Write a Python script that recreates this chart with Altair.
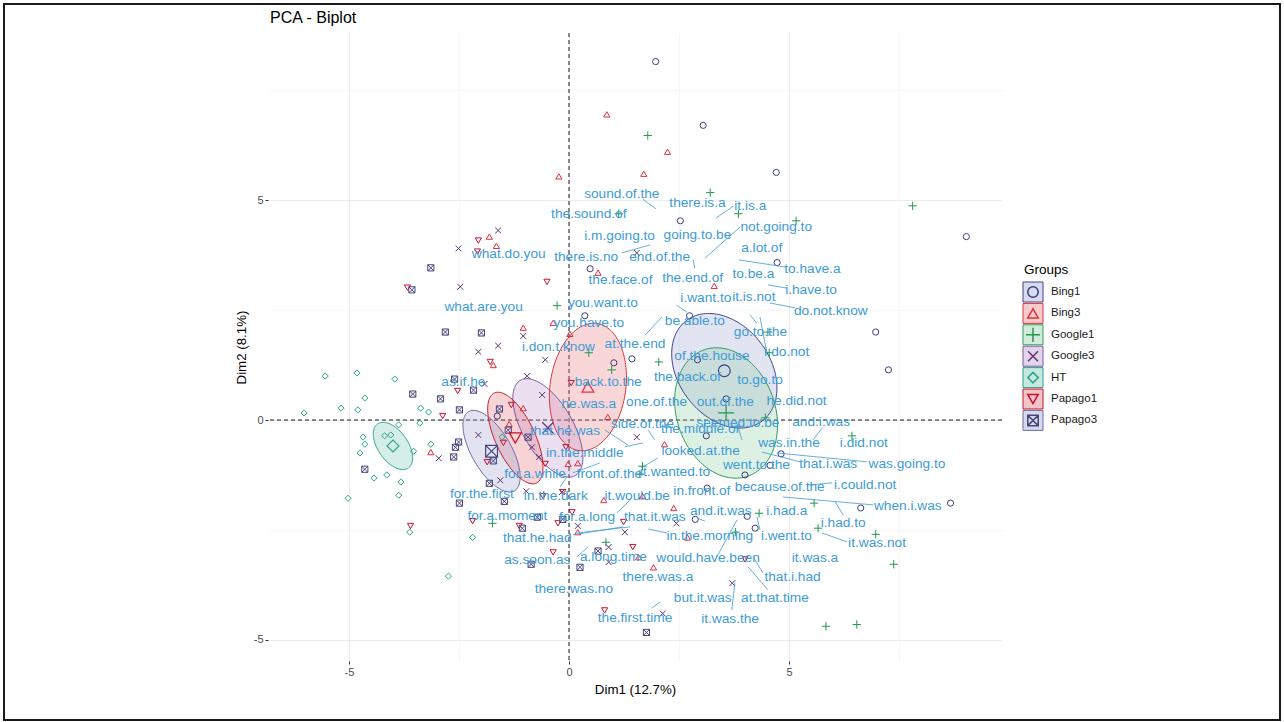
import numpy as np
import pandas as pd
import altair as alt

# ---------------------------------------------------------------- groups
GROUPS = ["Bing1", "Bing3", "Google1", "Google3", "HT", "Papago1", "Papago3"]
GROUP_COLORS = ["#3B3F85", "#E0303F", "#249650", "#5E3473", "#2AA58F", "#C8102E", "#45457F"]
ELLIPSE_LINE = ["#3E4391", "#D9363E", "#2E9B5A", "#7E57A0", "#2E9E88", "#C4162A", "#6A6AA8"]
ELLIPSE_FILL = ["#9EA5D4", "#EB7A7D", "#8ECDA5", "#BC94CD", "#73C6B2", "#E46C76", "#9E9ECD"]
GROUP_SHAPES = [
    "circle",
    "triangle-up",
    "M-1.35,0L1.35,0M0,-1.35L0,1.35",
    "M-0.95,-0.95L0.95,0.95M-0.95,0.95L0.95,-0.95",
    "diamond",
    "triangle-down",
    "M-1,-1L1,-1L1,1L-1,1ZM-1,-1L1,1M-1,1L1,-1",
]

# ---------------------------------------------------------------- individuals (Dim1, Dim2)
BING1_X = [1.97, 3.05, 4.71, 2.53, 9.03, 0.48, 4.73, 0.36, 2.74, 6.97, 7.26, 1.02, 1.43,
           2.92, 3.57, 3.12, 4.82, 4.57, 4.00, 3.14, 2.87, 4.05, 4.23, 6.63, 8.67, -1.63]
BING1_Y = [8.15, 6.70, 5.63, 4.53, 4.17, 3.44, 3.58, 2.37, 2.37, 2.00, 1.14, 1.30, 1.39,
           1.37, 0.48, -0.36, -0.77, -1.03, -1.25, -1.55, -2.26, -2.19, -2.46, -2.00, -1.89, 0.09]

BING3_X = [0.86, 2.24, 1.70, -0.23, -1.81, -1.65, 0.66, 3.30, -0.36, -1.04, 0.02, -1.72, -1.04,
           -1.36, 0.88, 2.17, -0.02, 0.20, -3.14, 0.79, 1.67, 2.38, 0.20, 2.69, 1.58, 1.92]
BING3_Y = [6.95, 6.10, 5.60, 5.54, 4.17, 3.96, 3.35, 3.05, 2.21, 2.10, 1.96, 1.25, 0.27,
           -0.09, 0.07, -0.55, -1.00, -0.98, -0.73, -1.82, -1.73, -2.00, -2.55, -2.67, -3.12, -3.35]

GOOGLE1_X = [1.79, 3.21, 3.85, 1.13, 5.16, 7.81, -0.27, 4.52, 4.55, 0.45, 0.97, 2.04, 4.46,
             1.67, 1.61, 6.43, 5.57, 4.32, 3.78, 5.66, 6.97, 7.38, 5.84, 6.54, 0.84, -1.74]
GOOGLE1_Y = [6.47, 5.17, 4.69, 4.69, 4.53, 4.87, 2.60, 2.00, 1.53, 1.53, 1.14, 1.32, 0.05,
             -1.05, -1.23, -0.36, -1.89, -2.12, -2.55, -2.46, -2.60, -3.28, -4.69, -4.65, -2.78, -2.35]

GOOGLE3_X = [-1.61, -2.51, -2.47, 1.54, -1.04, -1.61, -2.06, -0.54, -0.95, -1.92, -0.61, -2.06, -2.96,
             -0.84, -0.68, -1.56, -0.97, -0.16, 0.20, 0.90, 0.90, 1.27, 1.54, 2.44, 3.71, 2.13]
GOOGLE3_Y = [4.31, 3.90, 3.03, 3.80, 1.91, 1.69, 1.55, 1.37, 1.00, 0.82, 0.57, -0.34, -0.87,
             -0.62, -0.84, -1.37, -1.62, -1.64, -2.41, -2.89, -3.23, -2.55, -0.39, -2.35, -3.71, -4.40]

HT_X = [-5.54, -4.82, -3.96, -4.64, -5.18, -4.80, -6.02, -3.37, -3.19, -3.87, -3.39, -4.68, -4.64, -4.75,
        -4.19, -4.05, -3.53, -3.14, -4.43, -4.14, -3.82, -3.87, -5.02, -3.62, -2.19, -2.74, -1.52]
HT_Y = [1.00, 1.07, 0.93, 0.50, 0.27, 0.23, 0.16, 0.27, 0.18, -0.11, -0.07, -0.39, -0.55, -0.75,
        -0.36, -0.34, -0.71, -0.55, -1.32, -1.25, -1.41, -1.71, -1.78, -2.55, -2.67, -3.55, -0.39]

PAPAGO1_X = [-2.06, -2.08, -0.50, -3.67, -2.53, -2.87, -1.79, -1.31, -1.49, -1.86, 0.05, -0.07, -0.54,
             -0.59, -0.14, 0.07, -0.25, -1.13, -2.19, -3.60, 1.24, 1.45, 0.81, 4.00, -0.36]
PAPAGO1_Y = [4.08, 3.83, 3.14, 3.01, 0.66, 0.09, 1.32, 0.34, -0.52, -0.96, 0.84, -0.62, -1.00,
             -1.73, -1.64, -2.10, -2.35, -2.41, -2.30, -2.41, -2.32, -2.89, -4.33, -3.17, -3.01]

PAPAGO3_X = [-3.14, -3.57, -2.81, -1.99, -3.55, -2.92, -2.17, -2.60, -2.49, -2.51, -2.58, -2.62, -4.64, -1.58,
             -1.38, -0.93, -1.72, -1.81, -1.47, -2.49, -0.72, -0.14, -1.06, -0.86, 0.25, 0.66, 1.76]
PAPAGO3_Y = [3.46, 2.96, 2.00, 1.98, 0.59, 0.48, 0.68, 0.93, 0.23, -0.50, -0.62, -0.84, -1.12, 0.25,
             -0.23, -0.39, -0.93, -1.44, -1.85, -1.89, -2.21, -2.26, -2.46, -3.28, -3.35, -2.98, -4.83]

# group means and their concentration ellipses (semi-axes in Dim units, angle in degrees)
MEAN_X = [3.53, 0.43, 3.57, -0.48, -4.00, -1.22, -1.76]
MEAN_Y = [1.12, 0.75, 0.16, -0.18, -0.59, -0.41, -0.71]
ELL_A = [1.43, 1.46, 1.52, 1.25, 0.61, 1.13, 1.04]
ELL_B = [1.04, 0.86, 1.12, 0.57, 0.34, 0.45, 0.45]
ELL_ANGLE = [-53, 82, -71, -60, -55, -65, -60]

# ---------------------------------------------------------------- variables (n-gram labels)
LABEL_TEXT = [
    "sound.of.the", "there.is.a", "it.is.a", "the.sound.of", "i.m.going.to", "going.to.be",
    "not.going.to", "what.do.you", "there.is.no", "end.of.the", "a.lot.of", "to.have.a",
    "the.face.of", "the.end.of", "to.be.a", "i.have.to", "what.are.you", "you.want.to",
    "i.want.to", "it.is.not", "do.not.know", "you.have.to", "be.able.to", "go.to.the",
    "i.don.t.know", "at.the.end", "i.do.not", "of.the.house", "the.back.of", "to.go.to",
    "back.to.the", "as.if.he", "he.was.a", "one.of.the", "out.of.the", "he.did.not",
    "side.of.the", "seemed.to.be", "and.i.was", "that.he.was", "the.middle.of", "in.the.middle",
    "looked.at.the", "was.in.the", "i.did.not", "for.a.while", "front.of.the", "it.wanted.to",
    "went.to.the", "that.i.was", "was.going.to", "for.the.first", "in.the.dark", "it.would.be",
    "in.front.of", "because.of.the", "i.could.not", "for.a.moment", "for.a.long", "that.it.was",
    "and.it.was", "i.had.a", "when.i.was", "that.he.had", "in.the.morning", "i.went.to",
    "i.had.to", "it.was.not", "as.soon.as", "a.long.time", "would.have.been", "it.was.a",
    "there.was.a", "that.i.had", "there.was.no", "but.it.was", "at.that.time", "the.first.time",
    "it.was.the",
]
LABEL_X = [
    1.20, 2.92, 4.12, 0.45, 1.15, 2.92,
    4.71, -1.37, 0.39, 2.06, 4.38, 5.53,
    1.17, 2.81, 4.19, 5.50, -1.94, 0.77,
    3.11, 4.20, 5.95, 0.45, 2.86, 4.35,
    -0.24, 1.50, 4.95, 3.25, 2.69, 4.34,
    0.89, -2.40, 0.45, 1.99, 3.55, 5.17,
    1.67, 3.84, 5.73, -0.09, 2.98, 0.36,
    2.99, 5.00, 6.70, -0.77, 0.92, 2.41,
    4.26, 5.89, 7.68, -1.98, -0.30, 1.55,
    3.02, 4.79, 6.73, -1.40, 0.41, 1.95,
    3.45, 4.95, 7.70, -0.72, 3.20, 4.94,
    6.23, 7.00, -0.72, 1.01, 3.16, 5.59,
    2.02, 5.08, 0.11, 3.04, 4.68, 1.50,
    3.66,
]
LABEL_Y = [
    5.15, 4.94, 4.87, 4.68, 4.18, 4.20,
    4.38, 3.77, 3.71, 3.71, 3.90, 3.43,
    3.18, 3.23, 3.33, 2.95, 2.56, 2.67,
    2.78, 2.80, 2.48, 2.20, 2.26, 2.01,
    1.67, 1.73, 1.55, 1.45, 0.98, 0.91,
    0.87, 0.87, 0.36, 0.40, 0.42, 0.43,
    -0.08, -0.07, -0.05, -0.25, -0.20, -0.76,
    -0.70, -0.52, -0.52, -1.23, -1.23, -1.19,
    -1.02, -1.00, -1.00, -1.69, -1.72, -1.72,
    -1.61, -1.52, -1.48, -2.18, -2.21, -2.20,
    -2.08, -2.08, -1.95, -2.69, -2.63, -2.63,
    -2.35, -2.80, -3.18, -3.11, -3.13, -3.13,
    -3.57, -3.58, -3.85, -4.04, -4.05, -4.50,
    -4.52,
]

# repel leader segments between a label and its variable position
SEG_X = [1.68, 3.34, 3.09, 1.20, 2.82, 3.86, 4.52, 4.57, 2.45, 1.73, 4.11, 4.34,
         0.82, 1.27, 1.80, 1.68, 3.84, 5.55, 4.39, 4.73, 5.41, 4.86, 6.05, 5.75,
         0.09, 1.80, 3.36, 2.91, 4.27, 0.18, 4.07, 4.18, 3.77, 1.89, 1.09, -0.20, 0.09, 0.18]
SEG_Y = [5.02, 4.59, 3.68, 3.80, 3.64, 3.64, 3.07, 2.66, 2.61, 1.93, 2.39, 2.34,
         -0.23, -0.61, -0.23, -1.07, -0.16, -0.45, -0.73, -0.75, -1.48, -1.75, -1.86, -2.57,
         -2.61, -2.48, -3.11, -2.23, -2.20, -3.11, -3.34, -3.11, -3.70, -4.27, -2.11, -1.52, -1.20, -2.57]
SEG_X2 = [1.98, 3.73, 3.89, 1.84, 2.86, 4.91, 4.95, 5.14, 2.68, 2.11, 4.27, 4.50,
          1.34, 1.68, 1.95, 2.02, 3.93, 5.75, 5.25, 6.77, 5.98, 6.91, 6.23, 6.32,
          1.23, 2.23, 3.82, 3.09, 4.34, 0.43, 4.52, 4.41, 3.70, 2.07, 1.39, -0.05, 0.70, 1.39]
SEG_Y2 = [4.80, 4.86, 4.39, 3.98, 3.45, 3.48, 3.00, 2.55, 2.45, 2.34, 2.20, 1.52,
          -0.57, -0.52, -0.45, -0.86, -0.45, -0.18, -0.95, -0.95, -1.43, -1.93, -2.16, -2.77,
          -2.43, -2.57, -2.27, -2.30, -2.50, -2.89, -3.86, -3.48, -4.32, -4.14, -1.82, -1.30, -0.98, -2.43]

# ---------------------------------------------------------------- tables
ALL_X = [BING1_X, BING3_X, GOOGLE1_X, GOOGLE3_X, HT_X, PAPAGO1_X, PAPAGO3_X]
ALL_Y = [BING1_Y, BING3_Y, GOOGLE1_Y, GOOGLE3_Y, HT_Y, PAPAGO1_Y, PAPAGO3_Y]

points = pd.DataFrame(
    [{"group": g, "x": x, "y": y} for g, xs, ys in zip(GROUPS, ALL_X, ALL_Y) for x, y in zip(xs, ys)]
)
means = pd.DataFrame({"group": GROUPS, "x": MEAN_X, "y": MEAN_Y})
labels = pd.DataFrame({"label": LABEL_TEXT, "x": LABEL_X, "y": LABEL_Y})
segments = pd.DataFrame({"x": SEG_X, "y": SEG_Y, "x2": SEG_X2, "y2": SEG_Y2})


def ellipse_tables(group, cx, cy, a, b, deg):
    """Outline (closed path) and vertical fill band of a rotated ellipse."""
    phi = np.radians(deg)
    t = np.linspace(0, 2 * np.pi, 145)
    ox = cx + a * np.cos(t) * np.cos(phi) - b * np.sin(t) * np.sin(phi)
    oy = cy + a * np.cos(t) * np.sin(phi) + b * np.sin(t) * np.cos(phi)
    outline = pd.DataFrame({"group": group, "x": ox, "y": oy, "i": np.arange(len(t))})

    qa = np.sin(phi) ** 2 / a ** 2 + np.cos(phi) ** 2 / b ** 2
    qb = np.sin(phi) * np.cos(phi) * (1 / a ** 2 - 1 / b ** 2)
    qc = np.cos(phi) ** 2 / a ** 2 + np.sin(phi) ** 2 / b ** 2
    half_w = np.sqrt(qa / (qa * qc - qb ** 2))
    dx = half_w * np.cos(np.linspace(0, np.pi, 121))
    disc = np.clip(qb ** 2 * dx ** 2 - qa * (qc * dx ** 2 - 1), 0, None)
    band = pd.DataFrame({
        "group": group,
        "x": cx + dx,
        "lo": cy + (-qb * dx - np.sqrt(disc)) / qa,
        "hi": cy + (-qb * dx + np.sqrt(disc)) / qa,
    })
    return outline, band


parts = [ellipse_tables(*p) for p in zip(GROUPS, MEAN_X, MEAN_Y, ELL_A, ELL_B, ELL_ANGLE)]
ell_outline = pd.concat([p[0] for p in parts], ignore_index=True)
ell_band = pd.concat([p[1] for p in parts], ignore_index=True)

# ---------------------------------------------------------------- layout / styling
W, H = 734, 628
FONT = "Liberation Sans"
LABEL_BLUE = "#3D9BD6"
TICKS = [-5, -2.5, 0, 2.5, 5, 7.5]
MAJOR = "datum.value % 5 === 0"

COLOR = alt.Scale(domain=GROUPS, range=GROUP_COLORS)
FILL = alt.Scale(domain=GROUPS, range=ELLIPSE_FILL)
STROKE = alt.Scale(domain=GROUPS, range=ELLIPSE_LINE)
SHAPE = alt.Scale(domain=GROUPS, range=GROUP_SHAPES)
XS = alt.Scale(domain=[-6.84, 9.84], nice=False, zero=False)
YS = alt.Scale(domain=[-5.48, 8.80], nice=False, zero=False)


def axis(title, title_pad):
    return alt.Axis(
        title=title,
        values=TICKS,
        labelExpr=f"{MAJOR} ? '' + datum.value : ''",
        domain=False,
        tickSize=3,
        tickColor={"condition": {"test": f"!({MAJOR})", "value": "transparent"}, "value": "#333333"},
        gridColor={"condition": {"test": MAJOR, "value": "#EBEBEB"}, "value": "#F2F2F2"},
        gridWidth={"condition": {"test": MAJOR, "value": 1}, "value": 0.7},
        labelColor="#4D4D4D",
        labelFontSize=11,
        labelPadding=2,
        titleFontSize=13.3,
        titleFontWeight="normal",
        titleColor="#000000",
        titlePadding=title_pad,
    )


AX_X = axis("Dim1 (12.7%)", 5)
AX_Y = axis("Dim2 (8.1%)", 5)


def X(field):
    return alt.X(field, type="quantitative", scale=XS, axis=AX_X)


def Y(field):
    return alt.Y(field, type="quantitative", scale=YS, axis=AX_Y)


zero = pd.DataFrame({"v": [0.0]})
vline = alt.Chart(zero).mark_rule(color="#000000", strokeDash=[4, 3], strokeWidth=0.9).encode(x=X("v"))
hline = alt.Chart(zero).mark_rule(color="#000000", strokeDash=[4, 3], strokeWidth=0.9).encode(y=Y("v"))

ell_fill = alt.Chart(ell_band).mark_area(fillOpacity=0.3).encode(
    x=X("x"), y=Y("lo"), y2="hi",
    fill=alt.Fill("group:N", scale=FILL, legend=None),
)
ell_line = alt.Chart(ell_outline).mark_line(strokeWidth=1).encode(
    x=X("x"), y=Y("y"), order="i:Q",
    stroke=alt.Stroke("group:N", scale=STROKE, legend=None),
)

pts = alt.Chart(points).mark_point(filled=False, size=38, strokeWidth=1, opacity=1).encode(
    x=X("x"), y=Y("y"),
    color=alt.Color("group:N", scale=COLOR, legend=None),
    shape=alt.Shape("group:N", scale=SHAPE, legend=None),
)
mean_pts = alt.Chart(means).mark_point(filled=False, size=140, strokeWidth=1.2, opacity=1).encode(
    x=X("x"), y=Y("y"),
    color=alt.Color("group:N", scale=COLOR, legend=None),
    shape=alt.Shape("group:N", scale=SHAPE, legend=None),
)

segs = alt.Chart(segments).mark_rule(color=LABEL_BLUE, strokeWidth=0.8).encode(
    x=X("x"), y=Y("y"), x2="x2", y2="y2"
)
texts = alt.Chart(labels).mark_text(
    font=FONT, fontSize=13.7, color=LABEL_BLUE, align="center", baseline="middle"
).encode(x=X("x"), y=Y("y"), text="label:N")

# ---------------------------------------------------------------- legend "Groups" (right of the panel)
LEG_X, LEG_TOP, LEG_ROW = 765, 259, 21.4
legend_df = pd.DataFrame({"group": GROUPS, "row": range(len(GROUPS))})
legend_df["ly"] = LEG_TOP + legend_df["row"] * LEG_ROW

leg_base = alt.Chart(legend_df).encode(y=alt.Y("ly:Q", scale=None, axis=None))
leg_box = leg_base.mark_square(size=400, filled=True, fillOpacity=0.4, strokeWidth=1).encode(
    x=alt.value(LEG_X),
    fill=alt.Fill("group:N", scale=FILL, legend=None),
    stroke=alt.Stroke("group:N", scale=STROKE, legend=None),
)
leg_sym = leg_base.mark_point(filled=False, size=110, strokeWidth=1.5, opacity=1).encode(
    x=alt.value(LEG_X),
    color=alt.Color("group:N", scale=COLOR, legend=None),
    shape=alt.Shape("group:N", scale=SHAPE, legend=None),
)
leg_txt = leg_base.mark_text(font=FONT, fontSize=11.5, align="left", baseline="middle", color="#1A1A1A").encode(
    x=alt.value(LEG_X + 18), text="group:N"
)
leg_title = alt.Chart(pd.DataFrame({"t": ["Groups"]})).mark_text(
    font=FONT, fontSize=13.5, align="left", baseline="middle", color="#000000"
).encode(x=alt.value(LEG_X - 9), y=alt.value(237), text="t:N")

# ---------------------------------------------------------------- plot title and outer frame
title = alt.Chart(pd.DataFrame({"t": ["PCA - Biplot"]})).mark_text(
    font=FONT, fontSize=16, align="left", baseline="alphabetic", color="#000000"
).encode(x=alt.value(2), y=alt.value(-10), text="t:N")

frame = alt.Chart(pd.DataFrame({"f": [0]})).mark_rect(
    fillOpacity=0, stroke="#1A1A1A", strokeWidth=2
).encode(x=alt.value(-264), x2=alt.value(1012), y=alt.value(-29), y2=alt.value(687))

chart = alt.layer(
    vline, hline, ell_fill, ell_line, pts, mean_pts, segs, texts,
    leg_box, leg_sym, leg_txt, leg_title, title, frame,
).properties(
    width=W,
    height=H,
    autosize=alt.AutoSizeParams(type="none"),
    padding={"left": 268, "top": 33, "right": 282, "bottom": 61},
).configure(
    font=FONT, background="#FFFFFF"
).configure_view(strokeWidth=0)

chart.save("out.html", embed_options={"renderer": "svg", "actions": False})
